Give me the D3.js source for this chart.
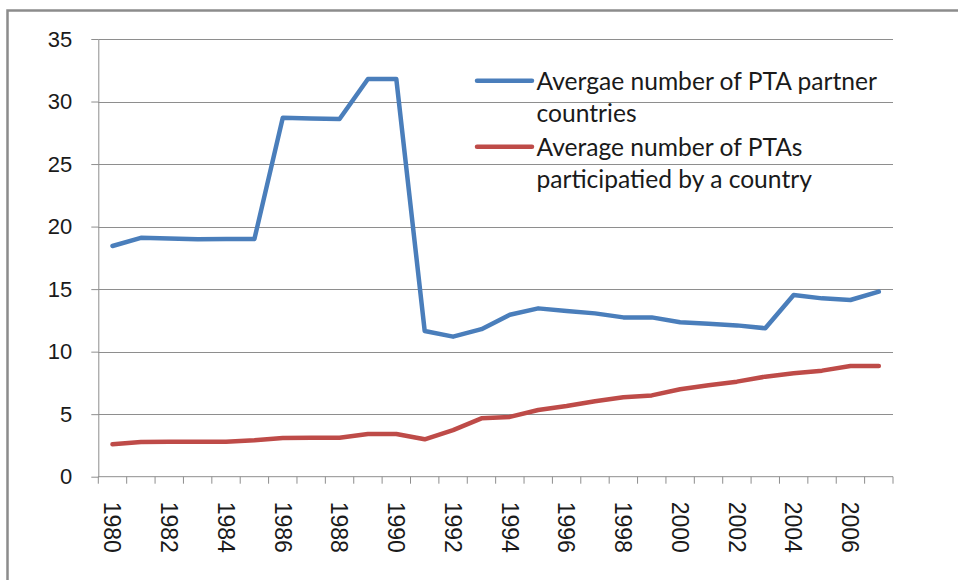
<!DOCTYPE html>
<html>
<head>
<meta charset="utf-8">
<script src="https://cdn.jsdelivr.net/npm/d3@7"></script>
<style>
    body { margin: 0; background: #fff; }
    .grid line { stroke: #8e8e8e; stroke-width: 1; }
    .axis path, .axis line { stroke: #8e8e8e; stroke-width: 1; }
    .axis text { font-family: "Liberation Sans", Arial, sans-serif; fill: #1a1a1a; }
    .legend text { font-family: Lato, "Open Sans", sans-serif; fill: #1a1a1a; }
</style>
</head>
<body>
<div id="vis"></div>
<script>
    var years = d3.range(1980, 2008);
    var yearLabels = d3.range(1980, 2008, 2);
    var yTicks = d3.range(0, 36, 5);

    var partners = [18.45, 19.1, 19.05, 18.98, 19.0, 19.0, 28.7, 28.65, 28.6, 31.8, 31.8,
        11.65, 11.2, 11.8, 12.95, 13.46, 13.25, 13.06, 12.74, 12.74, 12.35, 12.24, 12.1,
        11.87, 14.53, 14.26, 14.13, 14.8];
    var ptas = [2.59, 2.77, 2.8, 2.8, 2.8, 2.91, 3.09, 3.12, 3.12, 3.41, 3.41,
        2.99, 3.73, 4.67, 4.78, 5.33, 5.65, 6.03, 6.35, 6.5, 6.99, 7.31, 7.6,
        8.0, 8.27, 8.48, 8.85, 8.85];

    var seriesNames = [
        ["Avergae number of PTA partner", "countries"],
        ["Average number of PTAs", "participatied by a country"]
    ];
    var seriesColors = ["#4a7ebb", "#be4b48"];

    var width = 958,
        height = 580;

    var x = d3.scaleBand()
        .domain(years)
        .range([98.3, 893]);

    var y = d3.scaleLinear()
        .domain([0, 35])
        .range([476.7, 39]);

    var svg = d3.select("#vis").append("svg")
        .attr("width", width)
        .attr("height", height);

    // outer chart frame
    svg.append("rect")
        .attr("x", 7.5)
        .attr("y", 10.5)
        .attr("width", 980)
        .attr("height", 600)
        .attr("fill", "none")
        .attr("stroke", "#8c8c8c")
        .attr("stroke-width", 2.5);

    svg.append("g")
        .attr("class", "grid")
        .selectAll("line")
        .data(yTicks.slice(1))
        .enter().append("line")
        .attr("x1", x.range()[0])
        .attr("x2", x.range()[1])
        .attr("y1", function(d) { return Math.round(y(d)) + 0.5; })
        .attr("y2", function(d) { return Math.round(y(d)) + 0.5; });

    var yAxis = svg.append("g")
        .attr("class", "axis")
        .attr("transform", "translate(" + x.range()[0] + ",0)")
        .call(d3.axisLeft(y)
            .tickValues(yTicks)
            .tickSize(7)
            .tickPadding(19)
            .tickSizeOuter(0));
    yAxis.selectAll("text").style("font-size", "22px");

    var xAxis = svg.append("g")
        .attr("class", "axis")
        .attr("transform", "translate(0," + y(0) + ")");

    xAxis.append("line")
        .attr("x1", x.range()[0])
        .attr("x2", x.range()[1]);

    xAxis.selectAll(".tick")
        .data(years.map(function(d) { return x(d); }).concat([x.range()[1]]))
        .enter().append("line")
        .attr("class", "tick")
        .attr("x1", function(d) { return d; })
        .attr("x2", function(d) { return d; })
        .attr("y2", 7);

    xAxis.selectAll("text")
        .data(yearLabels)
        .enter().append("text")
        .attr("transform", function(d) {
            return "translate(" + (x(d) + x.bandwidth() / 2) + ",25) rotate(90)";
        })
        .attr("dy", "0.36em")
        .style("font-size", "23px")
        .text(function(d) { return d; });

    var line = d3.line()
        .x(function(d, i) { return x(years[i]) + x.bandwidth() / 2; })
        .y(function(d) { return y(d); });

    [partners, ptas].forEach(function(values, i) {
        svg.append("path")
            .datum(values)
            .attr("d", line)
            .attr("fill", "none")
            .attr("stroke", seriesColors[i])
            .attr("stroke-width", 4.5)
            .attr("stroke-linejoin", "round")
            .attr("stroke-linecap", "round");
    });

    var legend = svg.append("g")
        .attr("class", "legend");

    seriesNames.forEach(function(lines, i) {
        var top = 80.7 + i * 66;
        legend.append("line")
            .attr("x1", 477)
            .attr("x2", 532)
            .attr("y1", top)
            .attr("y2", top)
            .attr("stroke", seriesColors[i])
            .attr("stroke-width", 4.5)
            .attr("stroke-linecap", "round");
        lines.forEach(function(t, j) {
            legend.append("text")
                .attr("x", 536.5)
                .attr("y", top + 9.5 + j * 31.5)
                .style("font-size", "24.6px")
                .text(t);
        });
    });
</script>
</body>
</html>
